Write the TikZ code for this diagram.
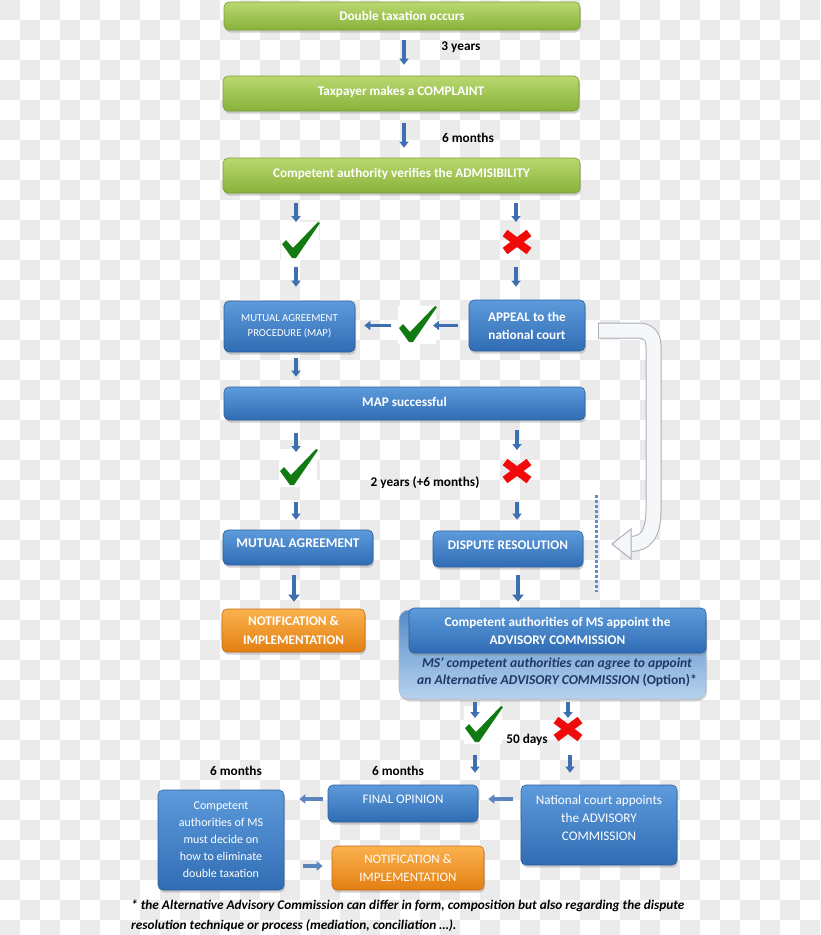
\documentclass[tikz,border=0pt]{standalone}
\usepackage{fontspec}
\setmainfont{Carlito}
\usetikzlibrary{arrows.meta,shadows,calc}
\definecolor{gTop}{HTML}{B9D870}
\definecolor{gBot}{HTML}{88B23A}
\definecolor{gLine}{HTML}{7A9C36}
\definecolor{bTop}{HTML}{5E9BDC}
\definecolor{bBot}{HTML}{2F6CB3}
\definecolor{bLine}{HTML}{2B5E9E}
\definecolor{oTop}{HTML}{FBB24E}
\definecolor{oBot}{HTML}{E37F12}
\definecolor{oLine}{HTML}{C56A10}
\definecolor{arrBlue}{HTML}{3E6FB0}
\definecolor{chkgreen}{HTML}{127A12}
\definecolor{xred}{HTML}{F00A0A}
\definecolor{checkgray}{HTML}{EBEBEB}
\definecolor{navy}{HTML}{1F3864}
\definecolor{curveLine}{HTML}{A9B0BA}
\definecolor{curveFill}{HTML}{F6F7F9}
\definecolor{dotBlue}{HTML}{5B8ED4}
\newcommand{\upby}[2]{\raisebox{#1}[\height][\depth]{#2}}
\tikzset{
  box/.style={rounded corners=5pt, draw, line width=0.6pt, align=center, inner sep=0pt, text=white,
    drop shadow={shadow xshift=1pt, shadow yshift=-2.5pt, opacity=0.35}},
  greenbox/.style={box, top color=gTop, bottom color=gBot, draw=gLine, font=\fontsize{13.2}{15}\selectfont\bfseries},
  bluebox/.style={box, top color=bTop, bottom color=bBot, draw=bLine},
  orangebox/.style={box, top color=oTop, bottom color=oBot, draw=oLine},
  arr/.style={draw=arrBlue, line width=3.5pt, -{Triangle[width=9pt,length=6pt]}},
  bigarr/.style={draw=arrBlue, line width=4.5pt, -{Triangle[width=11pt,length=7pt]}},
  harr/.style={draw=arrBlue!85!white, line width=4pt, -{Triangle[width=9pt,length=6pt]}},
  lbl/.style={font=\fontsize{13.3}{15}\selectfont\bfseries, text=black, inner sep=0pt},
  dotline/.style={draw=dotBlue, line width=3pt, dash pattern=on 3pt off 2pt},
  pics/chkmark/.style={code={
    \fill[white] (-19,-19) rectangle (19,19);
    \fill[chkgreen] (-18,3) -- (-14,-1) -- (-7,7) -- (18,-19) -- (20,-18) -- (-4,17) -- (-8,17) -- cycle;
  }},
  pics/xmark/.style={code={
    \draw[xred, line width=8pt] (-12,-9) -- (12,9) (-12,9) -- (12,-9);
  }},
}
\begin{document}
\begin{tikzpicture}[x=1pt,y=-1pt]
\useasboundingbox (0,0) rectangle (820,935);
\clip (0,0) rectangle (820,935);
\fill[white] (0,0) rectangle (820,935);
% checkerboard background
\foreach \j in {0,...,46} {
  \pgfmathtruncatemacro\off{mod(\j,2)*20}
  \foreach \i in {0,40,...,800} {
    \fill[checkgray] (\i+\off,\j*20) rectangle ++(20,20);
  }
}

% ---- nodes ----
\node[greenbox, minimum width=356pt, minimum height=28pt] (g1) at (402,16) {Double taxation occurs};
\node[greenbox, minimum width=356pt, minimum height=35pt] (g2) at (401,93.5) {\upby{1.5pt}{Taxpayer makes a COMPLAINT}};
\node[greenbox, minimum width=357pt, minimum height=35pt] (g3) at (401.5,175.5) {\upby{1.5pt}{Competent authority verifies the ADMISIBILITY}};

\node[bluebox, minimum width=131pt, minimum height=51pt, font=\fontsize{10.7}{15}\selectfont] (map) at (289.5,326.5) {MUTUAL AGREEMENT\\PROCEDURE (MAP)};
\node[bluebox, minimum width=116pt, minimum height=51pt, font=\fontsize{13.2}{18}\selectfont\bfseries] (ap) at (527,325.5) {APPEAL to the\\national court};
\node[bluebox, minimum width=361pt, minimum height=33pt, font=\fontsize{13.2}{15}\selectfont\bfseries] (ms) at (404.5,403.5) {\upby{2pt}{MAP successful}};

\node[bluebox, minimum width=150pt, minimum height=35pt, font=\fontsize{13.4}{15}\selectfont\bfseries] (ma) at (298,547.5) {\upby{4pt}{MUTUAL AGREEMENT}};
\node[bluebox, minimum width=150pt, minimum height=36pt, font=\fontsize{13.2}{15}\selectfont\bfseries] (dr) at (508,549) {\upby{3.5pt}{DISPUTE RESOLUTION}};
\node[orangebox, minimum width=143pt, minimum height=43pt, font=\fontsize{13.2}{19}\selectfont\bfseries] (n1) at (293.5,630.5) {NOTIFICATION \&\\IMPLEMENTATION};

\node[box, rounded corners=10pt, minimum width=307pt, minimum height=89pt, draw=bLine!40!white,
      top color=bTop!90!black, middle color=bTop!12!white, bottom color=bTop!45!white] (acOuter) at (552.5,654.5) {};
\node[bluebox, minimum width=297pt, minimum height=45pt, font=\fontsize{13.2}{18}\selectfont\bfseries] (acInner) at (557.5,630.5) {Competent authorities of MS appoint the\\ADVISORY COMMISSION};
\node[align=center, inner sep=0pt, text=navy, font=\fontsize{13.6}{17}\selectfont\bfseries] (acNote) at (557,672.5)
  {\itshape MS' competent authorities can agree to appoint\\\itshape an Alternative ADVISORY COMMISSION \upshape(Option)*};

\node[bluebox, minimum width=126pt, minimum height=100pt, font=\fontsize{12}{17}\selectfont] (cp) at (221,840) {Competent\\authorities of MS\\must decide on\\how to eliminate\\double taxation};
\node[bluebox, minimum width=150pt, minimum height=37pt, font=\fontsize{13}{15}\selectfont] (fo) at (403,803.5) {\upby{4pt}{FINAL OPINION}};
\node[bluebox, minimum width=156pt, minimum height=80pt, font=\fontsize{13.2}{18.3}\selectfont] (nc) at (599,825)
  {\upby{6pt}{\begin{tabular}{@{}c@{}}National court appoints\\the ADVISORY\\COMMISSION\end{tabular}}};
\node[orangebox, minimum width=152pt, minimum height=44pt, font=\fontsize{13}{18}\selectfont] (n2) at (408,868) {NOTIFICATION \&\\IMPLEMENTATION};

% ---- labels ----
\node[lbl] (l1) at (461,47) {3 years};
\node[lbl] (l2) at (468,138) {6 months};
\node[lbl] (l3) at (425,483) {2 years (+6 months)};
\node[lbl] (l4) at (527,740) {50 days};
\node[lbl] (l5) at (236,771) {6 months};
\node[lbl] (l6) at (398,771) {6 months};
\node[lbl, anchor=base west, font=\fontsize{13.3}{15}\selectfont\bfseries\itshape] (fn1) at (131,909) {* the Alternative Advisory Commission can differ in form, composition but also regarding the dispute};
\node[lbl, anchor=base west, font=\fontsize{13.3}{15}\selectfont\bfseries\itshape] (fn2) at (131,929) {resolution technique or process (mediation, conciliation …).};

% ---- check / cross marks ----
\coordinate (c1) at (296,241);
\coordinate (x1) at (516,242);
\coordinate (c2) at (417,325);
\coordinate (c3) at (296,468);
\coordinate (x2) at (517,471);
\coordinate (c4) at (475,725);
\coordinate (x3) at (568,729);
\pic at ([xshift=4pt]c1) {chkmark};
\pic at ([xshift=1pt]x1) {xmark};
\pic at (c2) {chkmark};
\pic at ([xshift=2pt]c3) {chkmark};
\pic at (x2) {xmark};
\pic at ([xshift=8pt]c4) {chkmark};
\pic at (x3) {xmark};

% ---- connectors ----
\draw[arr, shorten <=10pt, shorten >=11pt] ([xshift=2pt]g1.south) -- ([xshift=3pt]g2.north);
\draw[arr, shorten <=12pt, shorten >=10pt] ([xshift=3pt]g2.south) -- ([xshift=2.5pt]g3.north);
\draw[arr, shorten <=10pt, shorten >=19pt] (g3.south -| c1) -- (c1);
\draw[arr, shorten <=26pt, shorten >=14pt] (c1) -- (c1 |- map.north);
\draw[arr, shorten <=10pt, shorten >=20pt] (g3.south -| x1) -- (x1);
\draw[arr, shorten <=25pt, shorten >=13pt] (x1) -- (x1 |- ap.north);
\draw[arr, shorten <=11pt, shorten >=16pt] (ap.west) -- (ap.west -| c2);
\draw[arr, shorten <=26pt, shorten >=9pt] (ap.west -| c2) -- (ap.west -| map.east);
\draw[arr, shorten <=6pt, shorten >=10pt] ([xshift=6.5pt]map.south) -- ([xshift=6.5pt]map.south |- ms.north);
\draw[arr, shorten <=13pt, shorten >=16pt] (ms.south -| c3) -- (c3);
\draw[arr, shorten <=34pt, shorten >=10pt] (c3) -- (c3 |- ma.north);
\draw[arr, shorten <=10pt, shorten >=21pt] (ms.south -| x2) -- (x2);
\draw[arr, shorten <=31pt, shorten >=11pt] (x2) -- (x2 |- dr.north);
\draw[bigarr, shorten <=10pt, shorten >=7pt] ([xshift=-4pt]ma.south) -- ([xshift=-4pt]ma.south |- n1.north);
\draw[bigarr, shorten <=8pt, shorten >=8pt] ([xshift=10pt]dr.south) -- ([xshift=10pt]dr.south |- acOuter.north);
\draw[arr, shorten <=3pt, shorten >=7pt] (acOuter.south -| c4) -- (c4);
\draw[arr, shorten <=30pt, shorten >=12pt] (c4) -- (c4 |- fo.north);
\draw[arr, shorten <=3pt, shorten >=11pt] (acOuter.south -| x3) -- (x3);
\draw[arr, shorten <=26pt, shorten >=12pt] ([xshift=2pt]x3) -- ([xshift=2pt]x3 |- nc.north);
\draw[harr, shorten <=8pt, shorten >=10pt] ([yshift=26pt]nc.west) -- ([yshift=26pt]nc.west -| fo.east);
\draw[harr, shorten <=5pt, shorten >=15pt] ([yshift=4.5pt]fo.west) -- ([yshift=4.5pt]fo.west -| cp.east);
\draw[harr, shorten <=19pt, shorten >=9pt] ([yshift=2pt]n2.west -| cp.east) -- ([yshift=2pt]n2.west);

% ---- dotted separator ----
\coordinate (dA) at (596,495);
\coordinate (dB) at (596,592);
\draw[dotline] (dA) -- (dB);

% ---- big hollow curved arrow ----
\coordinate (cvS) at (598,330.5);
\coordinate (cvE) at (612,544);
\draw[curveLine, line width=16pt] (cvS) -- (638,330.5) .. controls (648,330.5) and (653.5,336) .. (653.5,346) -- (653.5,510) .. controls (653.5,535) and (645,544) .. (630,544);
\draw[curveFill, line width=14pt, shorten <=1pt] (cvS) -- (638,330.5) .. controls (648,330.5) and (653.5,336) .. (653.5,346) -- (653.5,510) .. controls (653.5,535) and (645,544) .. (630,544);
\filldraw[fill=curveFill, draw=curveLine, line width=1pt, line join=miter] (cvE) -- (631,529) -- (631,559) -- cycle;
\end{tikzpicture}
\end{document}
